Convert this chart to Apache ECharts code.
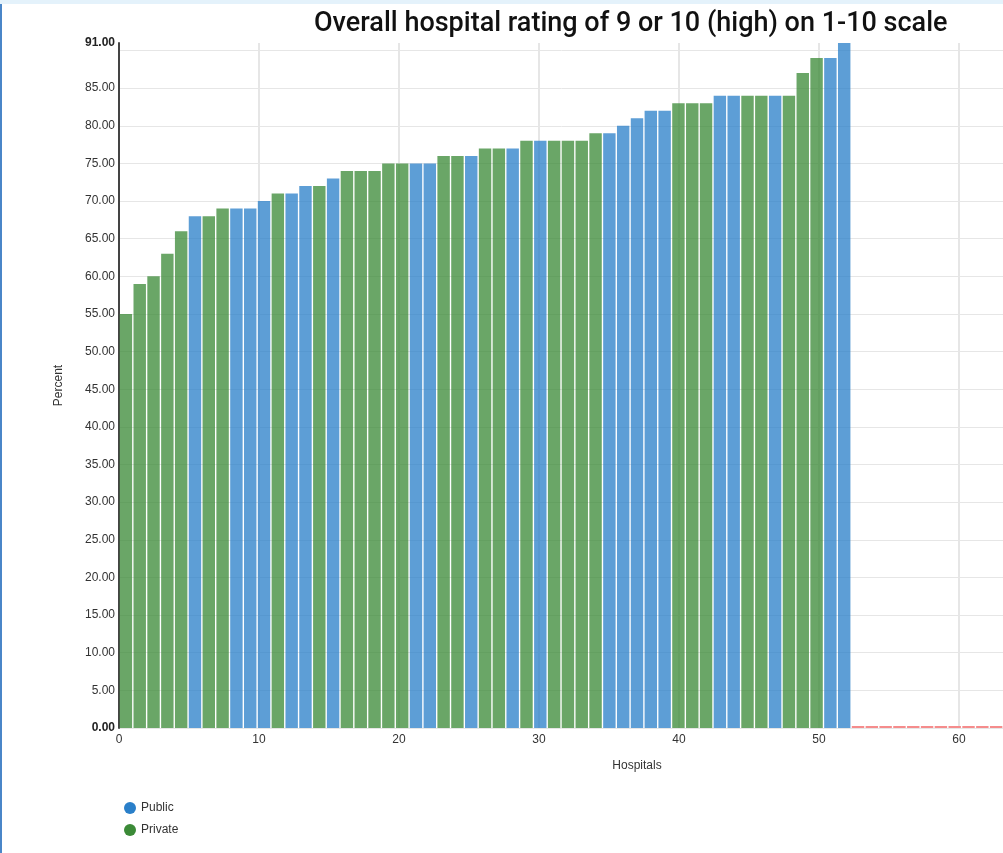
<!DOCTYPE html>
<html>
<head>
<meta charset="utf-8">
<script src="https://cdn.jsdelivr.net/npm/echarts@6/dist/echarts.min.js"></script>
<style>
  html, body { margin: 0; padding: 0; background: #fff; }
  #chart { position: absolute; left: 0; top: 0; width: 1003px; height: 853px; background: #fff; }
  #topStrip { position: absolute; left: 0; top: 0; width: 1003px; height: 4px; background: #e4f2fb; }
  #leftEdge { position: absolute; left: 0; top: 4px; width: 2px; height: 849px; background: #4a86c8; }
</style>
</head>
<body>
<div id="chart"></div>
<div id="topStrip"></div>
<div id="leftEdge"></div>
<script>
// percent of patients rating the hospital 9 or 10, sorted ascending
const ratings = [55, 59, 60, 63, 66, 68, 68, 69, 69, 69, 70, 71, 71, 72, 72, 73, 74, 74, 74, 75,
  75, 75, 75, 76, 76, 76, 77, 77, 77, 78, 78, 78, 78, 78, 79, 79, 80, 81, 82, 82,
  83, 83, 83, 84, 84, 84, 84, 84, 84, 87, 89, 89, 91];
// ownership of each hospital, same order (U = public, R = private)
const ownership = ['R', 'R', 'R', 'R', 'R', 'U', 'R', 'R', 'U', 'U', 'U', 'R', 'U', 'U', 'R', 'U', 'R', 'R', 'R', 'R',
  'R', 'U', 'U', 'R', 'R', 'U', 'R', 'R', 'U', 'R', 'U', 'R', 'R', 'R', 'R', 'U', 'U', 'U', 'U', 'U',
  'R', 'R', 'R', 'U', 'U', 'R', 'R', 'U', 'R', 'R', 'R', 'U', 'U'];
// hospitals with no rating (shown as red dashes on the baseline)
const missing = [0, 0, 0, 0, 0, 0, 0, 0, 0, 0, 0];
const slotCount = 75;
const xTicks = [0, 10, 20, 30, 40, 50, 60, 70];
const seriesNames = ['Public', 'Private'];

const slots = Array.from({ length: slotCount }, (_, i) => i + 1);
const publicData = ratings.map((v, i) => ownership[i] === 'U' ? v : '-');
const privateData = ratings.map((v, i) => ownership[i] === 'R' ? v : '-');
const missingData = ratings.map(() => '-').concat(missing);

const chart = echarts.init(document.getElementById('chart'));

const yMax = 91;
const yTicks = [];
for (let v = 0; v < yMax; v += 5) yTicks.push(v);
yTicks.push(yMax);
const splitColors = yTicks.map((v, i) => i === yTicks.length - 1 ? 'transparent' : '#e6e6e6');

const option = {
  backgroundColor: 'transparent',
  animation: false,
  title: {
    text: 'Overall hospital rating of 9 or 10 (high) on 1-10 scale',
    left: 309,
    top: 6,
    textStyle: {
      fontFamily: 'Roboto',
      fontWeight: 500,
      fontSize: 27,
      color: '#111'
    }
  },
  legend: {
    orient: 'vertical',
    left: 119,
    top: 797,
    icon: 'circle',
    itemWidth: 12,
    itemHeight: 12,
    itemGap: 10,
    data: seriesNames,
    itemStyle: { opacity: 1 },
    textStyle: { fontFamily: 'Liberation Sans', fontSize: 12, color: '#333' }
  },
  grid: {
    left: 119,
    top: 43,
    height: 685,
    width: 1036,
    outerBoundsMode: 'none'
  },
  xAxis: [{
    type: 'category',
    data: slots,
    position: 'bottom',
    show: false
  }, {
    type: 'value',
    position: 'bottom',
    min: 0,
    max: 74,
    interval: 10,
    name: 'Hospitals',
    nameLocation: 'middle',
    nameGap: 32,
    nameTextStyle: { fontFamily: 'Liberation Sans', fontSize: 12, color: '#333' },
    axisLine: { show: false },
    axisTick: { show: false },
    axisLabel: {
      margin: 6,
      fontFamily: 'Liberation Sans',
      fontSize: 12,
      color: '#333',
      formatter: v => xTicks.includes(v) ? String(v) : ''
    },
    splitLine: { show: true, lineStyle: { color: '#e6e6e6', width: 2 } }
  }],
  yAxis: {
    type: 'value',
    min: 0,
    max: yMax,
    interval: 5,
    name: 'Percent',
    nameLocation: 'middle',
    nameGap: 54,
    nameTextStyle: { fontFamily: 'Liberation Sans', fontSize: 12, color: '#333' },
    axisLine: { show: true, lineStyle: { color: '#444', width: 2 } },
    axisTick: { show: false },
    axisLabel: {
      margin: 4,
      fontFamily: 'Liberation Sans',
      fontSize: 12,
      color: '#333',
      formatter: v => {
        if (v === 90) return '';
        if (v === 0 || v === yMax) return '{b|' + v.toFixed(2) + '}';
        return v.toFixed(2);
      },
      rich: {
        b: { fontFamily: 'Liberation Sans', fontSize: 12, fontWeight: 'bold', color: '#222' }
      }
    },
    splitLine: { show: true, lineStyle: { color: splitColors, width: 1 } }
  },
  series: [{
    name: 'Public',
    type: 'bar',
    xAxisIndex: 0,
    data: publicData,
    barGap: '-100%',
    barCategoryGap: '10%',
    itemStyle: { color: '#2a7fc9', opacity: 0.76 }
  }, {
    name: 'Private',
    type: 'bar',
    xAxisIndex: 0,
    data: privateData,
    barGap: '-100%',
    barCategoryGap: '10%',
    itemStyle: { color: '#3b8a37', opacity: 0.76 }
  }, {
    name: 'No data',
    type: 'bar',
    xAxisIndex: 0,
    data: missingData,
    barGap: '-100%',
    barCategoryGap: '10%',
    barMinHeight: 2,
    clip: false,
    itemStyle: { color: '#f58c8c' }
  }]
};

chart.setOption(option);
</script>
</body>
</html>
